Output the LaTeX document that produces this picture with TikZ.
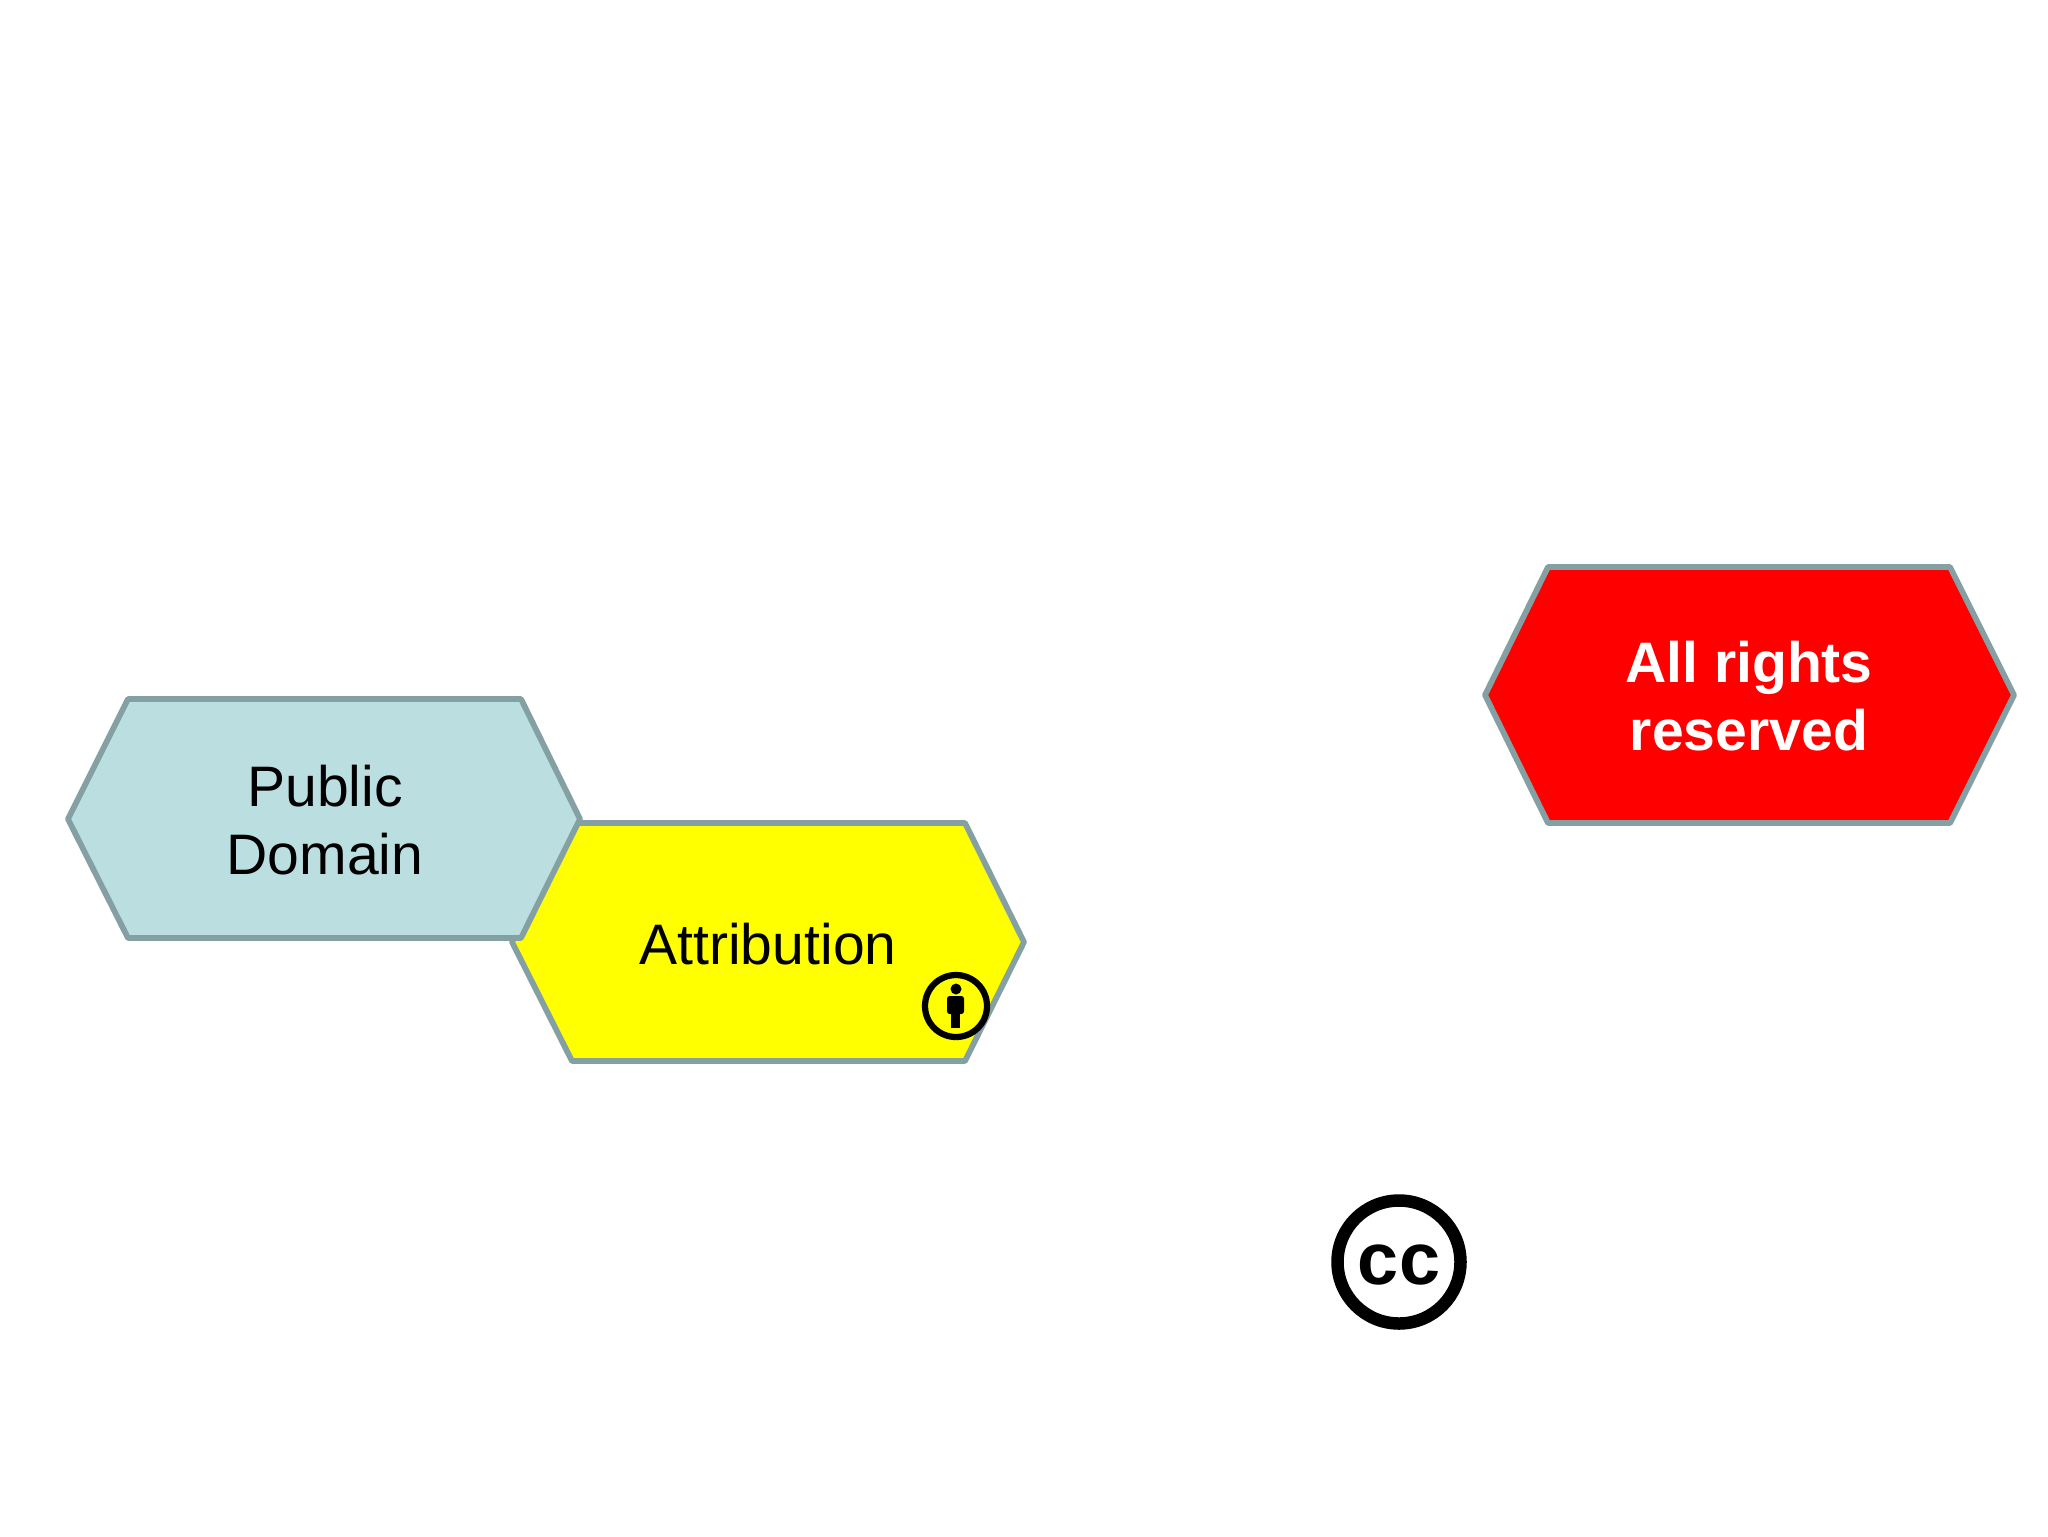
\documentclass[tikz,border=0pt]{standalone}
\usepackage{fontspec}
\setmainfont{Liberation Sans}
\definecolor{ppddee}{HTML}{BBDFE1}
\definecolor{eeggaa}{HTML}{85A0A2}
\definecolor{yyyyqq}{rgb}{1.,1.,0.}
\definecolor{rrqqqq}{rgb}{1.,0.,0.}
\tikzset{
  hexa/.style={line width=0.115cm,color=eeggaa,line join=round},
  lab/.style={align=center,font=\fontsize{32.5}{38.7}\selectfont,text=black},
  labw/.style={lab,font=\fontsize{32.5}{38.7}\selectfont\bfseries,text=white},
}
\begin{document}
\begin{tikzpicture}[line cap=round,line join=round,x=0.02cm,y=-0.02cm]
  \useasboundingbox (0,0) rectangle (2048,1536);
  % hexagons, yellow goes under the blue one
  \draw [hexa,fill=yyyyqq] (512,942) -- (572,823) -- (965,823) -- (1024,942) -- (965,1061) -- (572,1061) -- cycle;
  \draw [hexa,fill=ppddee] (68,819) -- (128,699) -- (521,699) -- (580,819) -- (521,938) -- (128,938) -- cycle;
  \draw [hexa,fill=rrqqqq] (1485,695) -- (1548,567) -- (1950,567) -- (2014,695) -- (1950,823) -- (1548,823) -- cycle;
  \node [lab] (pubdom) at (325,820) {Public\\Domain};
  \node [lab] (attrib) at (768,944) {Attribution};
  \node [labw] (allres) at (1749,696) {All rights\\reserved};
  % BY icon
  \draw [line width=0.125cm,color=black,fill=yyyyqq] (956,1006) circle (31);
  \fill [black] (956,989) circle (5.5);
  \fill [black,rounded corners=1.5] (947,996) rectangle (964,1014);
  \fill [black] (951,1010) rectangle (960,1028);
  % CC icon
  \draw [line width=0.25cm,color=black] (1399,1262) circle (61.5);
  \node [font=\fontsize{42}{42}\selectfont\bfseries,inner sep=0pt] (ccmark) at (1399,1265) {cc};
\end{tikzpicture}
\end{document}
